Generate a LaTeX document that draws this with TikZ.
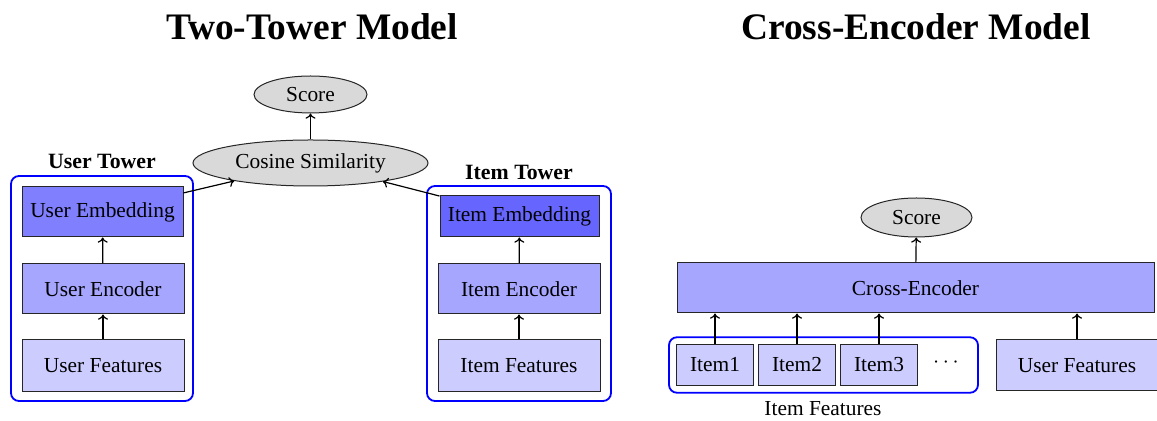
\documentclass[tikz,border=0pt]{standalone}
\usepackage{fontspec}
\setmainfont{Liberation Serif}
\usetikzlibrary{shapes.geometric,arrows.meta}

\tikzset{
  base/.style={font=\fontsize{10.7}{13}\selectfont},
  block/.style={base, draw=black!85, line width=0.5pt, inner sep=0pt, align=center},
  embuser/.style={block, fill=blue!50},
  embitem/.style={block, fill=blue!60},
  encbox/.style={block, fill=blue!35},
  featbox/.style={block, fill=blue!20},
  oval/.style={base, ellipse, draw=black!85, line width=0.5pt, fill=gray!30, inner sep=0pt},
  group/.style={draw=blue, line width=0.9pt, rounded corners=4pt, inner sep=0pt},
  heading/.style={font=\fontsize{18.7}{22}\selectfont\bfseries},
  towerlabel/.style={font=\fontsize{10.9}{13}\selectfont\bfseries},
  caption/.style={base},
  flow/.style={-{To[length=2.6pt,width=5pt]}, line width=0.6pt}
}

\begin{document}
\begin{tikzpicture}[x=0.5pt,y=-0.5pt]
  \useasboundingbox (0,0) rectangle (1157,421);

  % titles
  \node[heading] (t1) at (312,27) {Two-Tower Model};
  \node[heading] (t2) at (916,27) {Cross-Encoder Model};

  % ---- two-tower model ----
  \node[group, minimum width=91pt, minimum height=112.5pt] (utower) at (102,288.5) {};
  \node[towerlabel] (utl) at (102,161) {User Tower};
  \node[embuser, minimum width=80.5pt, minimum height=25pt] (ue) at (102.5,212) {User Embedding};
  \node[encbox, minimum width=81pt, minimum height=25pt] (uenc) at (103,289) {User Encoder};
  \node[featbox, minimum width=81pt, minimum height=26pt] (uf) at (103,366) {User Features};

  \node[group, minimum width=92pt, minimum height=107.5pt] (itower) at (519,293.5) {};
  \node[towerlabel] (itl) at (519,172) {Item Tower};
  \node[embitem, minimum width=79.5pt, minimum height=20.5pt] (ie) at (519.5,216.5) {Item Embedding};
  \node[encbox, minimum width=81pt, minimum height=25pt] (ienc) at (519,289) {Item Encoder};
  \node[featbox, minimum width=81pt, minimum height=26pt] (if) at (519,366) {Item Features};

  \node[oval, minimum width=117.5pt, minimum height=23pt] (cos) at (310.5,163) {Cosine Similarity};
  \node[oval, minimum width=56.5pt, minimum height=18.5pt] (s1) at (310.5,94.5) {Score};

  \draw[flow] (uf) -- (uenc);
  \draw[flow] (uenc) -- (ue);
  \draw[flow] (if) -- (ienc);
  \draw[flow] (ienc) -- (ie);
  \draw[flow] (ue) -- (cos);
  \draw[flow] (ie) -- (cos);
  \draw[flow] (cos) -- (s1);

  % ---- cross-encoder model ----
  \node[encbox, minimum width=238.5pt, minimum height=25pt] (ce) at (915.5,288) {Cross-Encoder};
  \node[oval, minimum width=55.5pt, minimum height=19.5pt] (s2) at (916.5,217.5) {Score};

  \node[group, minimum width=154.5pt, minimum height=27.75pt] (items) at (823.5,365) {};
  \node[featbox, minimum width=38.25pt, minimum height=20.25pt] (i1) at (715,365) {Item1};
  \node[featbox, minimum width=38.25pt, minimum height=20.25pt] (i2) at (797,365) {Item2};
  \node[featbox, minimum width=38.25pt, minimum height=20.25pt] (i3) at (879,365) {Item3};
  \node[base] (dots) at (946,363) {$\cdots$};
  \node[caption] (ifl) at (823,409) {Item Features};

  \node[featbox, minimum width=81pt, minimum height=25.5pt] (uf2) at (1077,365.5) {User Features};

  \draw[flow] (i1.north) -- (i1.north |- ce.south);
  \draw[flow] (i2.north) -- (i2.north |- ce.south);
  \draw[flow] (i3.north) -- (i3.north |- ce.south);
  \draw[flow] (uf2.north) -- (uf2.north |- ce.south);
  \draw[flow] (ce) -- (s2);
\end{tikzpicture}
\end{document}
